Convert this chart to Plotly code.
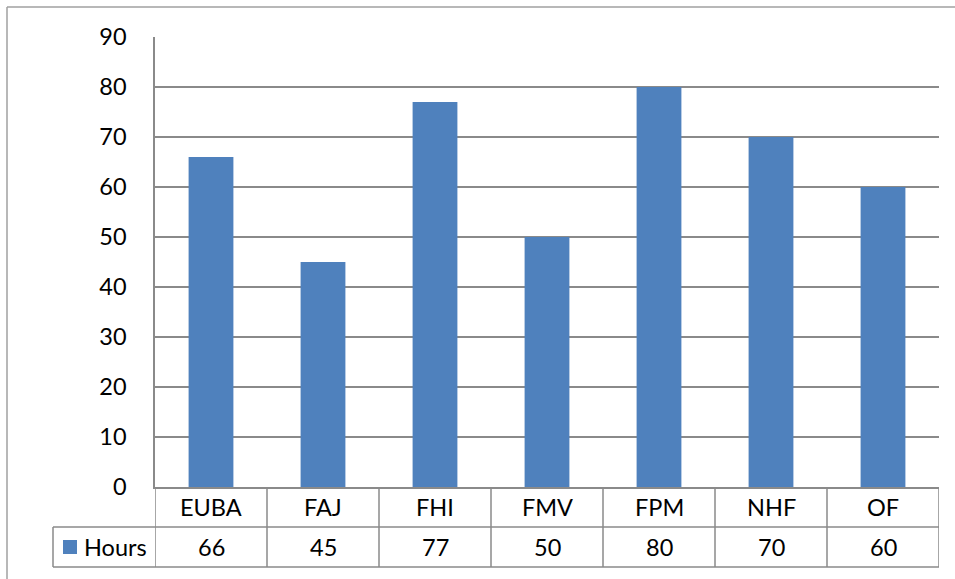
import plotly.graph_objects as go

# Data
categories = ["EUBA", "FAJ", "FHI", "FMV", "FPM", "NHF", "OF"]
hours = [66, 45, 77, 50, 80, 70, 60]
series_name = "Hours"
y_ticks = list(range(0, 100, 10))

# Page geometry (pixels)
W, H = 955, 579
L, R, T, B = 155, 16, 37, 92
PW, PH = W - L - R, H - T - B

BAR_COLOR = "#4F81BD"
LINE_COLOR = "#8A8A8A"
FONT = "Lato"
FS = 23.5


def px_x(px):
    return (px - L) / PW


def px_y(py):
    return (H - B - py) / PH


x_pos = list(range(len(categories)))

fig = go.Figure(
    go.Bar(x=x_pos, y=hours, width=0.4, marker_color=BAR_COLOR,
           marker_line_width=0, name=series_name, showlegend=False)
)

shapes = []


def line(x0, y0, x1, y1, xref="paper", yref="paper", color=LINE_COLOR, width=1.5):
    shapes.append(dict(type="line", xref=xref, yref=yref, x0=x0, y0=y0, x1=x1, y1=y1,
                       line=dict(color=color, width=width), layer="above"))


# Outer chart border
line(px_x(7), px_y(7), px_x(W + 2), px_y(7), color="#A0A0A0", width=1.5)
line(px_x(7), px_y(7), px_x(7), px_y(H + 2), color="#A0A0A0", width=1.5)

# Data table grid
line(px_x(53), px_y(527), 1, px_y(527))
line(px_x(53), px_y(567), 1, px_y(567))
line(px_x(53), px_y(527), px_x(53), px_y(567))
for k in range(len(categories) + 1):
    line(k - 0.5, 0, k - 0.5, px_y(567), xref="x")

# Legend key in the table
shapes.append(dict(type="rect", xref="paper", yref="paper",
                   x0=px_x(63), x1=px_x(77), y0=px_y(554), y1=px_y(540),
                   fillcolor=BAR_COLOR, line=dict(width=0)))

annotations = [dict(xref="paper", yref="paper", x=px_x(82), y=px_y(547),
                    text=series_name, showarrow=False, xanchor="left", yanchor="middle",
                    font=dict(family=FONT, size=FS, color="black"))]
for i, (c, v) in enumerate(zip(categories, hours)):
    annotations.append(dict(xref="x", yref="paper", x=i, y=px_y(507), text=c,
                            showarrow=False, xanchor="center", yanchor="middle",
                            font=dict(family=FONT, size=FS, color="black")))
    annotations.append(dict(xref="x", yref="paper", x=i, y=px_y(547), text=str(v),
                            showarrow=False, xanchor="center", yanchor="middle",
                            font=dict(family=FONT, size=FS, color="black")))

fig.update_layout(
    width=W, height=H,
    margin=dict(l=L, r=R, t=T, b=B),
    paper_bgcolor="white", plot_bgcolor="white",
    shapes=shapes, annotations=annotations,
    showlegend=False,
    font=dict(family=FONT, size=FS, color="black"),
    xaxis=dict(range=[-0.5, len(categories) - 0.5], showticklabels=False,
               showgrid=False, zeroline=False, showline=True,
               linecolor=LINE_COLOR, linewidth=1.5, ticks=""),
    yaxis=dict(range=[0, 90], tickvals=y_ticks, showgrid=True,
               gridcolor=LINE_COLOR, gridwidth=1.5, zeroline=False,
               showline=True, linecolor=LINE_COLOR, linewidth=1.5,
               ticks="", ticklabelstandoff=22,
               tickfont=dict(family=FONT, size=FS, color="black")),
)

fig.write_html("out.html")
